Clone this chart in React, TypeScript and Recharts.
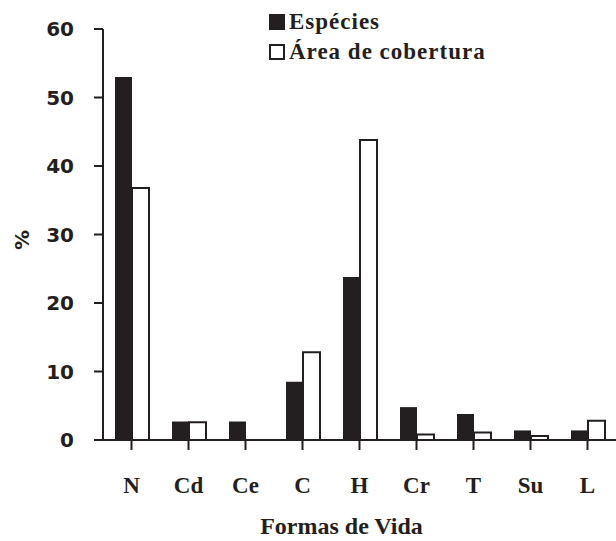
import React from 'react';
import { BarChart, Bar, XAxis, YAxis, Label } from 'recharts';

const categories = ['N', 'Cd', 'Ce', 'C', 'H', 'Cr', 'T', 'Su', 'L'];
const especies = [53, 2.7, 2.7, 8.5, 23.8, 4.8, 3.8, 1.4, 1.4];
const areaCobertura = [36.8, 2.6, 0, 12.8, 43.8, 0.8, 1.1, 0.6, 2.8];
const yTicks = [0, 10, 20, 30, 40, 50, 60];

const data = categories.map((c, i) => ({
    forma: c,
    especies: especies[i],
    area: areaCobertura[i],
}));

const INK = '#231f20';
const SERIF = '"Liberation Serif", "Times New Roman", serif';
const SANS = '"DejaVu Sans", Verdana, sans-serif';

const ChartLegend = () => (
    <div
        style={{
            position: 'absolute',
            left: 269,
            top: 7,
            fontFamily: SERIF,
            fontWeight: 700,
            fontSize: 23,
            letterSpacing: 1,
            color: INK,
            lineHeight: '30px',
        }}
    >
        <div style={{ display: 'flex', alignItems: 'center' }}>
            <span style={{ width: 16, height: 16, background: INK, marginRight: 4, display: 'inline-block' }} />
            Espécies
        </div>
        <div style={{ display: 'flex', alignItems: 'center' }}>
            <span style={{ width: 12, height: 12, border: `2px solid ${INK}`, background: '#fff', marginRight: 4, display: 'inline-block' }} />
            Área de cobertura
        </div>
    </div>
);

const App: React.FC = () => {
    return (
        <div style={{ position: 'absolute', left: 0, top: 0, width: 616, height: 541, background: '#fff' }}>
            <BarChart
                width={616}
                height={541}
                data={data}
                margin={{ top: 29, right: 0, left: 0, bottom: 0 }}
                barSize={17}
                barGap={0}
            >
                <XAxis
                    dataKey="forma"
                    height={101}
                    tickSize={10}
                    tickMargin={27}
                    axisLine={{ stroke: INK, strokeWidth: 2 }}
                    tickLine={{ stroke: INK, strokeWidth: 2 }}
                    tick={{ fill: INK, fontSize: 23, fontFamily: SERIF, fontWeight: 700 }}
                    interval={0}
                >
                    <Label
                        value="Formas de Vida"
                        position="insideBottom"
                        offset={7}
                        dx={-18}
                        style={{ fill: INK, fontSize: 24, fontFamily: SERIF, fontWeight: 700 }}
                    />
                </XAxis>
                <YAxis
                    width={103}
                    domain={[0, 60]}
                    ticks={yTicks}
                    tickSize={9}
                    tickMargin={20}
                    axisLine={{ stroke: INK, strokeWidth: 2 }}
                    tickLine={{ stroke: INK, strokeWidth: 2 }}
                    tick={{ fill: INK, fontSize: 20, fontFamily: SANS, fontWeight: 700 }}
                >
                    <Label
                        content={() => (
                            <text
                                x={22}
                                y={240}
                                transform="rotate(-90 22 240)"
                                textAnchor="middle"
                                dominantBaseline="central"
                                style={{ fill: INK, fontSize: 20, fontFamily: SANS, fontWeight: 700 }}
                            >
                                %
                            </text>
                        )}
                    />
                </YAxis>
                <Bar dataKey="especies" name="Espécies" fill={INK} isAnimationActive={false} />
                <Bar
                    dataKey="area"
                    name="Área de cobertura"
                    fill="#fff"
                    stroke={INK}
                    strokeWidth={2}
                    isAnimationActive={false}
                />
            </BarChart>
            <ChartLegend />
        </div>
    );
};

export default App;
